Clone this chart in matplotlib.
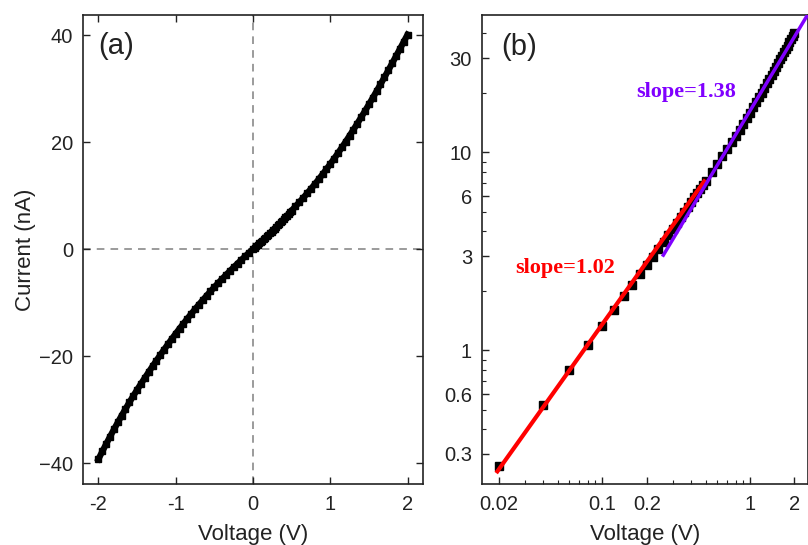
import numpy as np
import matplotlib
matplotlib.use('Agg')
import matplotlib.pyplot as plt
from matplotlib.ticker import FixedLocator, NullFormatter, LogLocator

plt.rcParams['font.family'] = ['Liberation Sans', 'DejaVu Sans']

# forward sweep: 0.02 V steps up to 0.5 V, then 0.05 V steps
v_fwd = [0.02, 0.04, 0.06, 0.08, 0.10, 0.12, 0.14, 0.16, 0.18, 0.20,
         0.22, 0.24, 0.26, 0.28, 0.30, 0.32, 0.34, 0.36, 0.38, 0.40,
         0.42, 0.44, 0.46, 0.48, 0.50, 0.55, 0.60, 0.65, 0.70, 0.75,
         0.80, 0.85, 0.90, 0.95, 1.00, 1.05, 1.10, 1.15, 1.20, 1.25,
         1.30, 1.35, 1.40, 1.45, 1.50, 1.55, 1.60, 1.65, 1.70, 1.75,
         1.80, 1.85, 1.90, 1.95, 2.00]
i_fwd = [0.26, 0.53, 0.80, 1.06, 1.33, 1.60, 1.88, 2.15, 2.43, 2.70,
         2.98, 3.26, 3.55, 3.84, 4.13, 4.42, 4.72, 5.02, 5.32, 5.63,
         5.94, 6.25, 6.57, 6.89, 7.21, 7.98, 8.77, 9.58, 10.41, 11.26,
         12.14, 13.04, 13.97, 14.92, 15.90, 16.91, 17.94, 19.00, 20.08, 21.19,
         22.32, 23.47, 24.64, 25.83, 27.04, 28.27, 29.52, 30.79, 32.08, 33.38,
         34.70, 36.03, 37.37, 38.72, 40.08]

# reverse bias branch
v_rev = [0.0, -0.05, -0.10, -0.15, -0.20, -0.25, -0.30, -0.35, -0.40, -0.45,
         -0.50, -0.55, -0.60, -0.65, -0.70, -0.75, -0.80, -0.85, -0.90, -0.95,
         -1.00, -1.05, -1.10, -1.15, -1.20, -1.25, -1.30, -1.35, -1.40, -1.45,
         -1.50, -1.55, -1.60, -1.65, -1.70, -1.75, -1.80, -1.85, -1.90, -1.95,
         -2.00]
i_rev = [0.0, -0.66, -1.33, -2.01, -2.70, -3.40, -4.11, -4.84, -5.58, -6.34,
         -7.11, -7.90, -8.71, -9.53, -10.37, -11.23, -12.11, -13.01, -13.92, -14.85,
         -15.80, -16.77, -17.76, -18.77, -19.80, -20.84, -21.90, -22.98, -24.07, -25.18,
         -26.30, -27.46, -28.65, -29.87, -31.12, -32.40, -33.71, -35.05, -36.42, -37.82,
         -39.25]

# power-law fits (end points)
fit1_v = [0.0195, 0.49]
fit1_i = [0.245, 7.15]
fit2_v = [0.259, 2.45]
fit2_i = [3.03, 49.5]

fig = plt.figure(figsize=(8.08, 5.45), dpi=100)
ax1 = fig.add_axes([0.1027, 0.1119, 0.4208, 0.8606])
ax2 = fig.add_axes([0.5962, 0.1119, 0.4038, 0.8606])

# (a) linear I-V
ax1.axhline(0, color='#808080', ls=(0, (5, 4)), lw=1.1, zorder=1)
ax1.axvline(0, color='#808080', ls=(0, (5, 4)), lw=1.1, zorder=1)
va = v_rev[::-1] + v_fwd
ia = i_rev[::-1] + i_fwd
ax1.plot(va, ia, color='black', lw=4.5, marker='s', ms=4.5, zorder=3)
ax1.set_xlim(-2.2, 2.2)
ax1.set_ylim(-43.9, 43.75)
ax1.set_xticks([-2, -1, 0, 1, 2])
ax1.set_xticklabels(['-2', '-1', '0', '1', '2'])
ax1.set_yticks([-40, -20, 0, 20, 40])
ax1.set_yticklabels(['\u221240', '\u221220', '0', '20', '40'])
ax1.tick_params(direction='in', length=5, width=1, labelsize=14.5,
                top=True, right=True, colors='#222222', labelcolor='#222222')
ax1.tick_params(axis='x', pad=8)
ax1.tick_params(axis='y', pad=7)
ax1.set_xlabel('Voltage (V)', fontsize=16, color='#222222', labelpad=7)
ax1.set_ylabel('Current (nA)', fontsize=16, color='#222222', labelpad=2)
ax1.text(0.044, 0.934, '(a)', transform=ax1.transAxes, fontsize=21,
         va='center', ha='left', color='#222222')

# (b) log-log
ax2.plot(v_fwd, i_fwd, ls='none', marker='s', ms=6, color='black', zorder=2)
ax2.plot(fit1_v, fit1_i, color='#ff0000', lw=3, zorder=3)
ax2.plot(fit2_v, fit2_i, color='#8000ff', lw=2.5, zorder=3)
ax2.set_xscale('log')
ax2.set_yscale('log')
ax2.set_xlim(0.01528, 2.47)
ax2.set_ylim(0.2115, 49.5)
ax2.xaxis.set_major_locator(FixedLocator([0.02, 0.1, 0.2, 1, 2]))
ax2.set_xticklabels(['0.02', '0.1', '0.2', '1', '2'])
ax2.xaxis.set_minor_locator(LogLocator(base=10, subs=np.arange(2, 10), numticks=20))
ax2.xaxis.set_minor_formatter(NullFormatter())
ax2.yaxis.set_major_locator(FixedLocator([0.3, 0.6, 1, 3, 6, 10, 30]))
ax2.set_yticklabels(['0.3', '0.6', '1', '3', '6', '10', '30'])
ax2.yaxis.set_minor_locator(LogLocator(base=10, subs=np.arange(2, 10), numticks=20))
ax2.yaxis.set_minor_formatter(NullFormatter())
ax2.tick_params(which='major', direction='in', length=5, width=1, labelsize=14.5,
                colors='#222222', labelcolor='#222222')
ax2.tick_params(which='minor', direction='in', length=3, width=0.8, colors='#222222')
ax2.tick_params(axis='x', which='major', pad=8)
ax2.tick_params(axis='y', which='major', pad=7)
ax2.set_xlabel('Voltage (V)', fontsize=16, color='#222222', labelpad=7)
ax2.text(0.061, 0.931, '(b)', transform=ax2.transAxes, fontsize=21,
         va='center', ha='left', color='#222222')
ax2.text(0.104, 0.4606, 'slope=1.02', color='#ff0000', fontsize=16,
         fontweight='bold', family='Liberation Serif', va='center',
         transform=ax2.transAxes)
ax2.text(0.473, 0.835, 'slope=1.38', color='#8000ff', fontsize=16,
         fontweight='bold', family='Liberation Serif', va='center',
         transform=ax2.transAxes)

for ax in (ax1, ax2):
    for s in ax.spines.values():
        s.set_color('#222222')
        s.set_linewidth(1.2)

fig.savefig('out.png', dpi=100)
